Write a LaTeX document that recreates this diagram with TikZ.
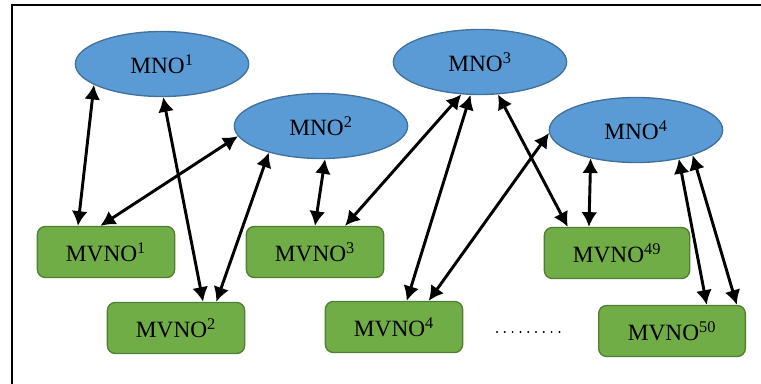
\documentclass[tikz,border=0pt]{standalone}
\usepackage{fontspec}
\setmainfont{Liberation Serif}
\usetikzlibrary{shapes.geometric,arrows.meta}
\definecolor{mnoBlue}{RGB}{91, 155, 213}
\definecolor{mnoBorder}{RGB}{65, 113, 156}
\definecolor{mvnoGreen}{RGB}{112, 173, 71}
\definecolor{mvnoBorder}{RGB}{80, 126, 50}

\begin{document}
\begin{tikzpicture}[x=0.75pt,y=-0.75pt,
	mno/.style={draw=mnoBorder, fill=mnoBlue, ellipse, line width=1pt, minimum width=130pt, minimum height=48.75pt, font=\fontsize{17.5}{20}\selectfont},
	mvno/.style={draw=mvnoBorder, fill=mvnoGreen, rounded corners=6pt, line width=1pt, minimum width=103pt, minimum height=38.25pt, font=\fontsize{17.5}{20}\selectfont},
	link/.style={{Latex[length=11pt,width=12pt]}-{Latex[length=11pt,width=12pt]}, line width=2.2pt}]
			\useasboundingbox (0,0) rectangle (761,384);
			\draw[line width=1.5pt] (761,5) -- (12,5) -- (12,384);

			\draw (162,64) node[mno] (MNO1) {MNO\textsuperscript{1}};
			\draw (321,126) node[mno] (MNO2) {MNO\textsuperscript{2}};
			\draw (480,62) node[mno] (MNO3) {MNO\textsuperscript{3}};
			\draw (636,130) node[mno] (MNO4) {MNO\textsuperscript{4}};

			\draw (106,252) node[mvno] (MVNO1) {MVNO\textsuperscript{1}};
			\draw (176,328) node[mvno] (MVNO2) {MVNO\textsuperscript{2}};
			\draw (315,252) node[mvno] (MVNO3) {MVNO\textsuperscript{3}};
			\draw (394,327) node[mvno] (MVNO4) {MVNO\textsuperscript{4}};
			\draw (617,253) node[mvno, minimum width=109pt] (MVNO49) {MVNO\textsuperscript{49}};
			\draw (672,331) node[mvno, minimum width=110pt] (MVNO50) {MVNO\textsuperscript{50}};

			\foreach \i in {0,...,8}
				\fill (497+7.8*\i,332) circle (1.1);

			\path
			(MNO1.197) edge[link] (MVNO1.137)
			(MNO2.187) edge[link] (MVNO1.102)
			(MNO1.272) edge[link] (MVNO2.44)
			(MNO2.207) edge[link] (MVNO2.33)
			(MNO2.277) edge[link] (MVNO3.90)
			(MNO3.240) edge[link] (MVNO3.41)
			(MNO3.254) edge[link] (MVNO4.64)
			(MNO4.182) edge[link] (MVNO4.37)
			(MNO3.299) edge[link] (MVNO49.152)
			(MNO4.212) edge[link] (MVNO49.137)
			(MNO4.326) edge[link] (MVNO50.37)
			(MNO4.336) edge[link] (MVNO50.22)
			;
		\end{tikzpicture}
\end{document}
